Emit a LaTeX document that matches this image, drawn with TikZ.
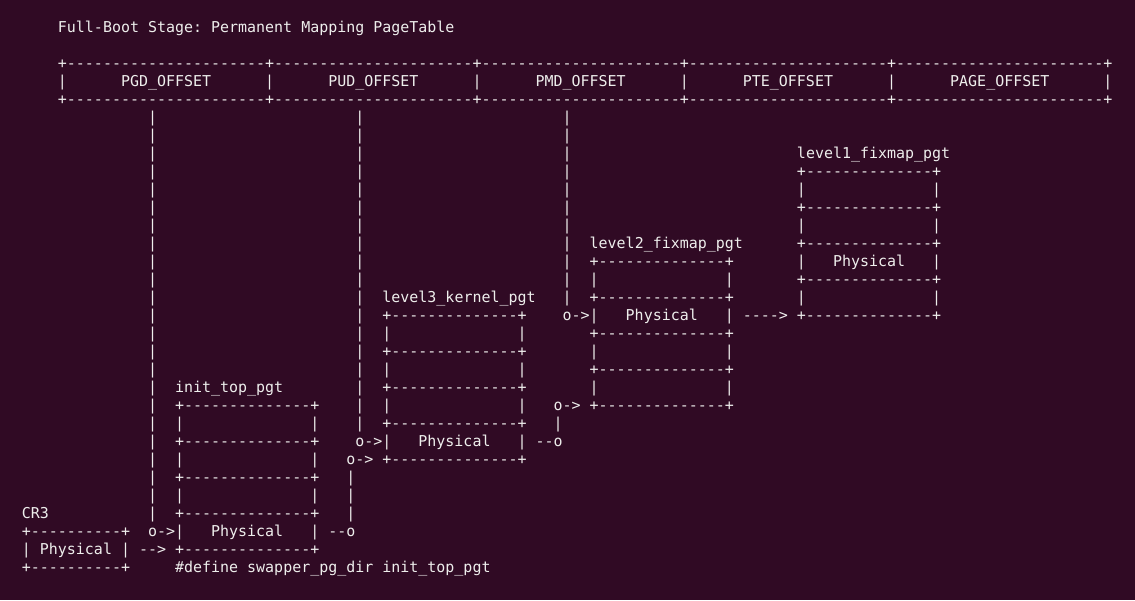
\documentclass[tikz,border=0pt]{standalone}
\usepackage{fontspec}
\setmonofont{DejaVu Sans Mono}
\definecolor{termbg}{RGB}{48,10,36}
\definecolor{termfg}{RGB}{238,238,236}
\ExplSyntaxOn
\cs_new:Npn \dupl #1#2 { \prg_replicate:nn {#1} {#2} }
\ExplSyntaxOff
\newlength\cwid
\setlength\cwid{9.0127pt}
\newcommand\sk[1]{\hspace*{#1\cwid}}
\newcommand\bxl{+\dupl{14}{-}+}
\newcommand\bxe{|\sk{14}|}
\newcommand\rowtxt[2]{\node[termrow] (r#1) at (21.9, 567.3-18*#1) {#2};}
\tikzset{termrow/.style={anchor=base west, inner sep=0pt, outer sep=0pt, text=termfg,
  font=\ttfamily\fontsize{14.97}{18}\selectfont\frenchspacing}}
\begin{document}
\begin{tikzpicture}[x=1pt,y=1pt]
\fill[termbg] (0,0) rectangle (1135,600);
\useasboundingbox (0,0) rectangle (1135,600);
\rowtxt{0}{\sk{4}Full-Boot\sk{1}Stage:\sk{1}Permanent\sk{1}Mapping\sk{1}PageTable}
\rowtxt{2}{\sk{4}+\dupl{22}{-}+\dupl{22}{-}+\dupl{22}{-}+\dupl{22}{-}+\dupl{23}{-}+}
\rowtxt{3}{\sk{4}|\sk{6}PGD\_OFFSET\sk{6}|\sk{6}PUD\_OFFSET\sk{6}|\sk{6}PMD\_OFFSET\sk{6}|\sk{6}PTE\_OFFSET\sk{6}|\sk{6}PAGE\_OFFSET\sk{6}|}
\rowtxt{4}{\sk{4}+\dupl{22}{-}+\dupl{22}{-}+\dupl{22}{-}+\dupl{22}{-}+\dupl{23}{-}+}
\rowtxt{5}{\sk{14}|\sk{22}|\sk{22}|}
\rowtxt{6}{\sk{14}|\sk{22}|\sk{22}|}
\rowtxt{7}{\sk{14}|\sk{22}|\sk{22}|\sk{25}level1\_fixmap\_pgt}
\rowtxt{8}{\sk{14}|\sk{22}|\sk{22}|\sk{25}\bxl}
\rowtxt{9}{\sk{14}|\sk{22}|\sk{22}|\sk{25}\bxe}
\rowtxt{10}{\sk{14}|\sk{22}|\sk{22}|\sk{25}\bxl}
\rowtxt{11}{\sk{14}|\sk{22}|\sk{22}|\sk{25}\bxe}
\rowtxt{12}{\sk{14}|\sk{22}|\sk{22}|\sk{2}level2\_fixmap\_pgt\sk{6}\bxl}
\rowtxt{13}{\sk{14}|\sk{22}|\sk{22}|\sk{2}\bxl\sk{7}|\sk{3}Physical\sk{3}|}
\rowtxt{14}{\sk{14}|\sk{22}|\sk{22}|\sk{2}\bxe\sk{7}\bxl}
\rowtxt{15}{\sk{14}|\sk{22}|\sk{2}level3\_kernel\_pgt\sk{3}|\sk{2}\bxl\sk{7}\bxe}
\rowtxt{16}{\sk{14}|\sk{22}|\sk{2}\bxl\sk{4}o->|\sk{3}Physical\sk{3}|\sk{1}---->\sk{1}\bxl}
\rowtxt{17}{\sk{14}|\sk{22}|\sk{2}\bxe\sk{7}\bxl}
\rowtxt{18}{\sk{14}|\sk{22}|\sk{2}\bxl\sk{7}\bxe}
\rowtxt{19}{\sk{14}|\sk{22}|\sk{2}\bxe\sk{7}\bxl}
\rowtxt{20}{\sk{14}|\sk{2}init\_top\_pgt\sk{8}|\sk{2}\bxl\sk{7}\bxe}
\rowtxt{21}{\sk{14}|\sk{2}\bxl\sk{4}|\sk{2}\bxe\sk{3}o->\sk{1}\bxl}
\rowtxt{22}{\sk{14}|\sk{2}\bxe\sk{4}|\sk{2}\bxl\sk{3}|}
\rowtxt{23}{\sk{14}|\sk{2}\bxl\sk{4}o->|\sk{3}Physical\sk{3}|\sk{1}--o}
\rowtxt{24}{\sk{14}|\sk{2}\bxe\sk{3}o->\sk{1}\bxl}
\rowtxt{25}{\sk{14}|\sk{2}\bxl\sk{3}|}
\rowtxt{26}{\sk{14}|\sk{2}\bxe\sk{3}|}
\rowtxt{27}{CR3\sk{11}|\sk{2}\bxl\sk{3}|}
\rowtxt{28}{+\dupl{10}{-}+\sk{2}o->|\sk{3}Physical\sk{3}|\sk{1}--o}
\rowtxt{29}{|\sk{1}Physical\sk{1}|\sk{1}-->\sk{1}\bxl}
\rowtxt{30}{+\dupl{10}{-}+\sk{5}\#define\sk{1}swapper\_pg\_dir\sk{1}init\_top\_pgt}
\end{tikzpicture}
\end{document}
